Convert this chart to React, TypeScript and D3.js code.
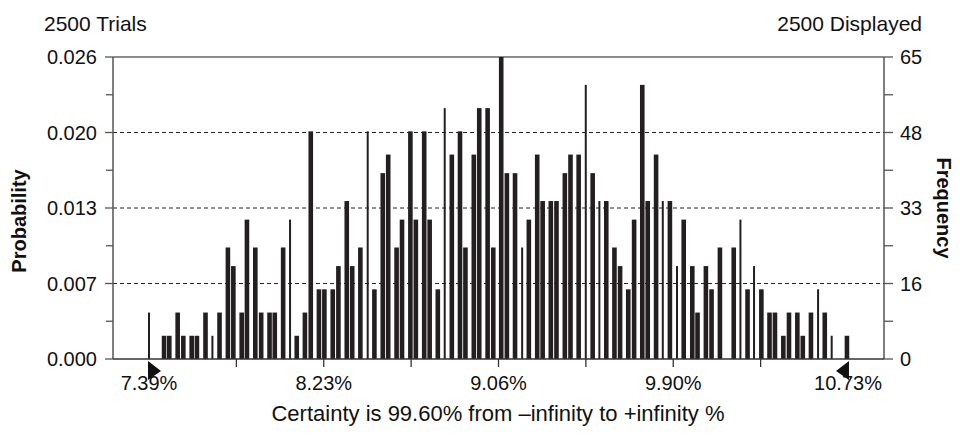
import React from "react";
import * as d3 from "d3";

// ---- Data ----
const TRIALS = 2500;
const DISPLAYED = 2500;
const CERTAINTY = "99.60%";

// bar centres (value in %)
const binValues = [
  7.39, 7.462, 7.487, 7.527, 7.554, 7.594, 7.619, 7.66, 7.693, 7.727,
  7.767, 7.793, 7.833, 7.858, 7.898, 7.926, 7.966, 7.991, 8.031, 8.064,
  8.096, 8.135, 8.163, 8.202, 8.228, 8.268, 8.295, 8.335, 8.361, 8.4,
  8.435, 8.467, 8.507, 8.533, 8.573, 8.599, 8.639, 8.665, 8.705, 8.731,
  8.77, 8.803, 8.837, 8.876, 8.902, 8.942, 8.968, 9.008, 9.035, 9.073,
  9.1, 9.139, 9.173, 9.205, 9.245, 9.271, 9.31, 9.337, 9.377, 9.404,
  9.443, 9.477, 9.51, 9.542, 9.575, 9.614, 9.641, 9.68, 9.708, 9.747,
  9.773, 9.813, 9.845, 9.879, 9.913, 9.945, 9.986, 10.011, 10.051, 10.078,
  10.118, 10.184, 10.216, 10.25, 10.281, 10.316, 10.355, 10.381, 10.421, 10.448,
  10.488, 10.514, 10.553, 10.587, 10.619, 10.652, 10.725,
];

// frequency of each bar
const frequencies = [
  10, 5, 5, 10, 5, 5, 5, 10, 5, 10,
  24, 20, 10, 30, 24, 10, 10, 10, 24, 30,
  5, 10, 49, 15, 15, 15, 20, 34, 20, 24,
  49, 15, 40, 44, 24, 30, 49, 30, 49, 30,
  15, 54, 44, 49, 24, 44, 54, 54, 24, 65,
  40, 40, 24, 30, 44, 34, 34, 34, 40, 44,
  44, 59, 40, 34, 34, 24, 20, 15, 30, 59,
  34, 44, 34, 34, 20, 30, 20, 10, 20, 15,
  24, 24, 30, 15, 20, 15, 10, 10, 5, 10,
  10, 5, 10, 15, 10, 5, 5,
];

const xDomain = [7.39, 10.73];
const xTickLabels = ["7.39%", "8.23%", "9.06%", "9.90%", "10.73%"];
const freqMax = 65;
const probTickLabels = ["0.000", "0.007", "0.013", "0.020", "0.026"];
const freqTickLabels = ["0", "16", "33", "48", "65"];

// rendering detail: bars that are drawn as thin strokes in the reference
const NARROW_BARS = new Set([0, 8, 19, 30, 41, 52, 61, 63, 72, 74, 82, 84, 93, 95]);

const W = 962;
const H = 444;
const L = 113;
const R = 884;
const T = 57;
const B = 359;
const XL = 149;
const XR = 848;

const FONT = "'Liberation Sans', Arial, Helvetica, sans-serif";
const FS = 20;
const FS_TITLE = 21;
const FS_CAPTION = 22;

export default function App() {
  const x = d3.scaleLinear().domain(xDomain).range([XL, XR]);
  const yF = d3.scaleLinear().domain([0, freqMax]).range([B, T]);
  const yP = d3.scaleLinear().domain([0, freqMax / TRIALS]).range([B, T]);

  const nMajor = probTickLabels.length - 1;
  const majorFreq = d3.range(nMajor + 1).map((i) => (i * freqMax) / nMajor);
  const minorFreq = d3.range(nMajor).map((i) => ((i + 0.5) * freqMax) / nMajor);

  const nX = (xTickLabels.length - 1) * 2;
  const xTicks = d3.range(nX + 1).map((i) => xDomain[0] + ((xDomain[1] - xDomain[0]) * i) / nX);

  const bars = binValues.map((v, i) => ({ v, f: frequencies[i], narrow: NARROW_BARS.has(i) }));

  return (
    <svg
      width={W}
      height={H}
      style={{ position: "absolute", left: 0, top: 0, background: "#fff" }}
      fontFamily={FONT}
    >
      <rect x={0} y={0} width={W} height={H} fill="#fff" />

      {/* dashed grid */}
      {majorFreq.slice(1, -1).map((f, i) => (
        <line key={"g" + i} x1={L} x2={R} y1={yF(f)} y2={yF(f)} stroke="#222" strokeWidth={1} strokeDasharray="4,3" />
      ))}

      {/* frame */}
      <line x1={L} x2={R} y1={T} y2={T} stroke="#666" strokeWidth={1.5} />
      <line x1={L} x2={L} y1={T} y2={B} stroke="#555" strokeWidth={1.5} />
      <line x1={R} x2={R} y1={T} y2={B} stroke="#555" strokeWidth={1.5} />

      {/* bars */}
      {bars.map((b, i) => {
        const w = b.narrow ? 2 : 4.6;
        return (
          <rect key={"b" + i} x={x(b.v) - w / 2} y={yF(b.f)} width={w} height={B - yF(b.f)} fill="#231f20" />
        );
      })}

      <line x1={L} x2={R} y1={B} y2={B} stroke="#333" strokeWidth={1.5} />

      {/* left ticks */}
      {majorFreq.map((f, i) => (
        <line key={"lt" + i} x1={L - 8} x2={L} y1={yF(f)} y2={yF(f)} stroke="#555" strokeWidth={1.3} />
      ))}
      {minorFreq.map((f, i) => (
        <line key={"lm" + i} x1={L - 7} x2={L} y1={yF(f)} y2={yF(f)} stroke="#555" strokeWidth={1.3} />
      ))}
      {/* right ticks */}
      {majorFreq.map((f, i) => (
        <line key={"rt" + i} x1={R} x2={R + 9} y1={yF(f)} y2={yF(f)} stroke="#555" strokeWidth={1.3} />
      ))}
      {minorFreq.map((f, i) => (
        <line key={"rm" + i} x1={R} x2={R + 9} y1={yF(f)} y2={yF(f)} stroke="#555" strokeWidth={1.3} />
      ))}

      {/* left labels (probability) */}
      {probTickLabels.map((lab, i) => (
        <text key={"pl" + i} x={97} y={yP((i * freqMax) / nMajor / TRIALS) + 7} textAnchor="end" fontSize={FS} fill="#111">
          {lab}
        </text>
      ))}
      {/* right labels (frequency) */}
      {freqTickLabels.map((lab, i) => (
        <text key={"fl" + i} x={900} y={yF(majorFreq[i]) + 7} textAnchor="start" fontSize={FS} fill="#111">
          {lab}
        </text>
      ))}

      {/* x ticks */}
      {xTicks.map((t, i) =>
        i === 0 || i === nX ? null : (
          <line key={"xt" + i} x1={x(t)} x2={x(t)} y1={B} y2={B + 8} stroke="#333" strokeWidth={1.3} />
        )
      )}
      {xTickLabels.map((lab, i) => (
        <text key={"xl" + i} x={x(xTicks[i * 2])} y={390} textAnchor="middle" fontSize={FS} fill="#111">
          {lab}
        </text>
      ))}

      {/* certainty grabbers */}
      <path d={`M${x(xDomain[0]) - 1},${B + 2} L${x(xDomain[0]) - 1},${B + 21} L${x(xDomain[0]) + 12},${B + 12} Z`} fill="#111" />
      <path d={`M${x(xDomain[1]) + 1},${B + 2} L${x(xDomain[1]) + 1},${B + 21} L${x(xDomain[1]) - 12},${B + 12} Z`} fill="#111" />

      {/* titles */}
      <text x={44} y={31} fontSize={FS_TITLE} fill="#111">{`${TRIALS} Trials`}</text>
      <text x={922} y={31} fontSize={FS_TITLE} textAnchor="end" fill="#111">{`${DISPLAYED} Displayed`}</text>
      <text x={498} y={421} fontSize={FS_CAPTION} textAnchor="middle" fill="#111">
        {`Certainty is ${CERTAINTY} from \u2013infinity to +infinity %`}
      </text>
      <text x={26} y={221} fontSize={FS} fontWeight="bold" textAnchor="middle" transform="rotate(-90 26 221)" fill="#111">
        Probability
      </text>
      <text x={937} y={208} fontSize={FS} fontWeight="bold" textAnchor="middle" transform="rotate(90 937 208)" fill="#111">
        Frequency
      </text>
    </svg>
  );
}
